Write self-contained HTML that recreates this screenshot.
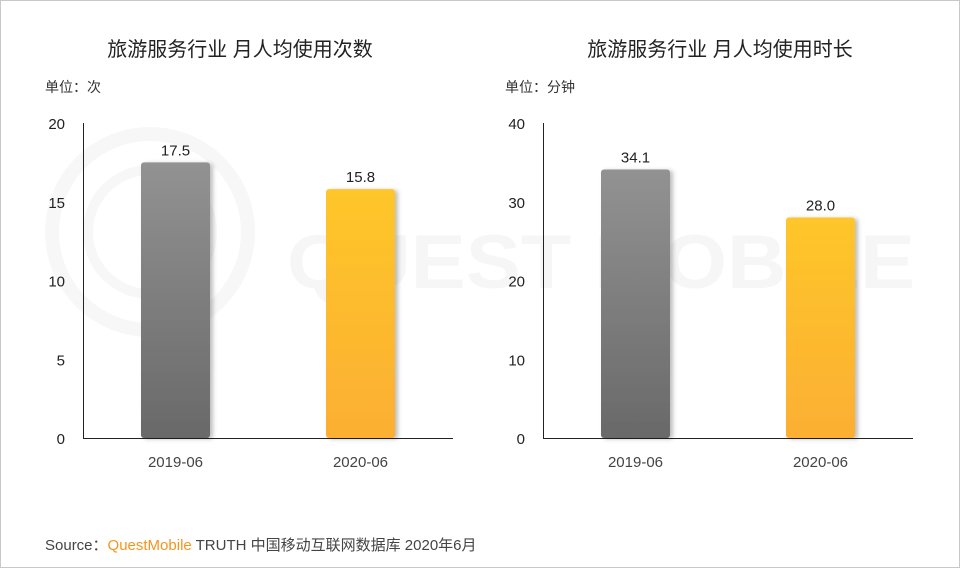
<!DOCTYPE html>
<html><head><meta charset="utf-8">
<style>
html,body{margin:0;padding:0;background:#fff;}
body{width:960px;height:568px;overflow:hidden;position:relative;font-family:"Liberation Sans","Noto Sans CJK SC",sans-serif;}
.frame{position:absolute;left:0;top:0;width:958px;height:566px;border:1px solid #c8c8c8;}
svg{position:absolute;left:0;top:0;}
</style></head>
<body>
<div class="frame"></div>
<svg id="s" width="960" height="568">
<defs>
<linearGradient id="gGray" x1="0" y1="0" x2="0" y2="1"><stop offset="0" stop-color="#929292"/><stop offset="1" stop-color="#696969"/></linearGradient>
<linearGradient id="gGold" x1="0" y1="0" x2="0" y2="1"><stop offset="0" stop-color="#fec62a"/><stop offset="1" stop-color="#fcaf32"/></linearGradient>
<filter id="sh" x="-20%" y="-5%" width="140%" height="110%"><feDropShadow dx="3" dy="1" stdDeviation="2" flood-color="#000" flood-opacity="0.25"/></filter>
</defs>
<g>
<circle cx="150" cy="232" r="98" fill="none" stroke="#f7f7f7" stroke-width="14"/>
<circle cx="150" cy="232" r="62" fill="none" stroke="#f7f7f7" stroke-width="10"/>
<text x="287" y="288" font-size="76" font-weight="bold" fill="#f6f6f6" font-family="Liberation Sans, sans-serif" textLength="628" lengthAdjust="spacingAndGlyphs">QUEST MOBILE</text>
</g>
</svg>
<script>
const categories = ["2019-06","2020-06"];
const timesValues = [17.5, 15.8];
const timesTicks = [0,5,10,15,20];
const durationValues = [34.1, 28.0];
const durationTicks = [0,10,20,30,40];

const NS="http://www.w3.org/2000/svg";
const svg=document.getElementById('s');
function el(tag,attrs,parent){const e=document.createElementNS(NS,tag);for(const k in attrs)e.setAttribute(k,attrs[k]);(parent||svg).appendChild(e);return e;}
function txt(str,attrs,parent){const e=el('text',attrs,parent);e.textContent=str;return e;}

function drawChart(cfg){
  const g=el('g',{});
  
  
  const y0=438,y1=123,max=cfg.ticks[cfg.ticks.length-1];
  const yScale=v=>y0-(v/max)*(y0-y1);
  const x0=cfg.left,x1=cfg.left+370;
  const band=(x1-x0)/cfg.categories.length;
  const xCenter=i=>x0+band*(i+0.5);
  const t=txt(cfg.title,{x:cfg.titleX,y:56,'font-size':20,fill:'#222','text-anchor':'middle'},g);
  
  
  const u=txt(cfg.unit,{x:cfg.left-38,y:92,'font-size':14,fill:'#333'},g);
  
  
  cfg.ticks.forEach(v=>{
    const tk=txt(String(v),{x:cfg.left-18,y:yScale(v)+6,'font-size':15,fill:'#222','text-anchor':'end'},g);
    
    
  });
  const ya=el('line',{x1:x0+0.5,y1:y1,x2:x0+0.5,y2:y0+1,stroke:'#222','stroke-width':1},g);
  
  
  const xa=el('line',{x1:x0,y1:y0+0.5,x2:x1,y2:y0+0.5,stroke:'#222','stroke-width':1},g);
  
  
  const bw=69;
  cfg.values.forEach((v,i)=>{
    const cx=xCenter(i),top=yScale(v);
    const b=el('rect',{x:cx-bw/2,y:top,width:bw,height:y0-top,rx:3,fill:i===0?'url(#gGray)':'url(#gGold)',filter:'url(#sh)'},g);
    
    
    const vl=txt(v.toFixed(1),{x:cx,y:top-7,'font-size':15,fill:'#222','text-anchor':'middle'},g);
    
    
    const cl=txt(cfg.categories[i],{x:cx,y:467,'font-size':15,fill:'#444','text-anchor':'middle'},g);
    
    
  });
}
drawChart({name:'monthly-usage-times-chart',title:'旅游服务行业 月人均使用次数',titleX:240,unit:'单位：次',left:83,ticks:timesTicks,values:timesValues,categories});
drawChart({name:'monthly-usage-duration-chart',title:'旅游服务行业 月人均使用时长',titleX:720,unit:'单位：分钟',left:543,ticks:durationTicks,values:durationValues,categories});

const src=el('text',{x:45,y:550,'font-size':15,fill:'#444'});


const a=el('tspan',{},src);a.textContent='Source：';
const b=el('tspan',{fill:'#f7941d'},src);b.textContent='QuestMobile';
const c=el('tspan',{},src);c.textContent=' TRUTH 中国移动互联网数据库 2020年6月';
</script>
</body></html>
